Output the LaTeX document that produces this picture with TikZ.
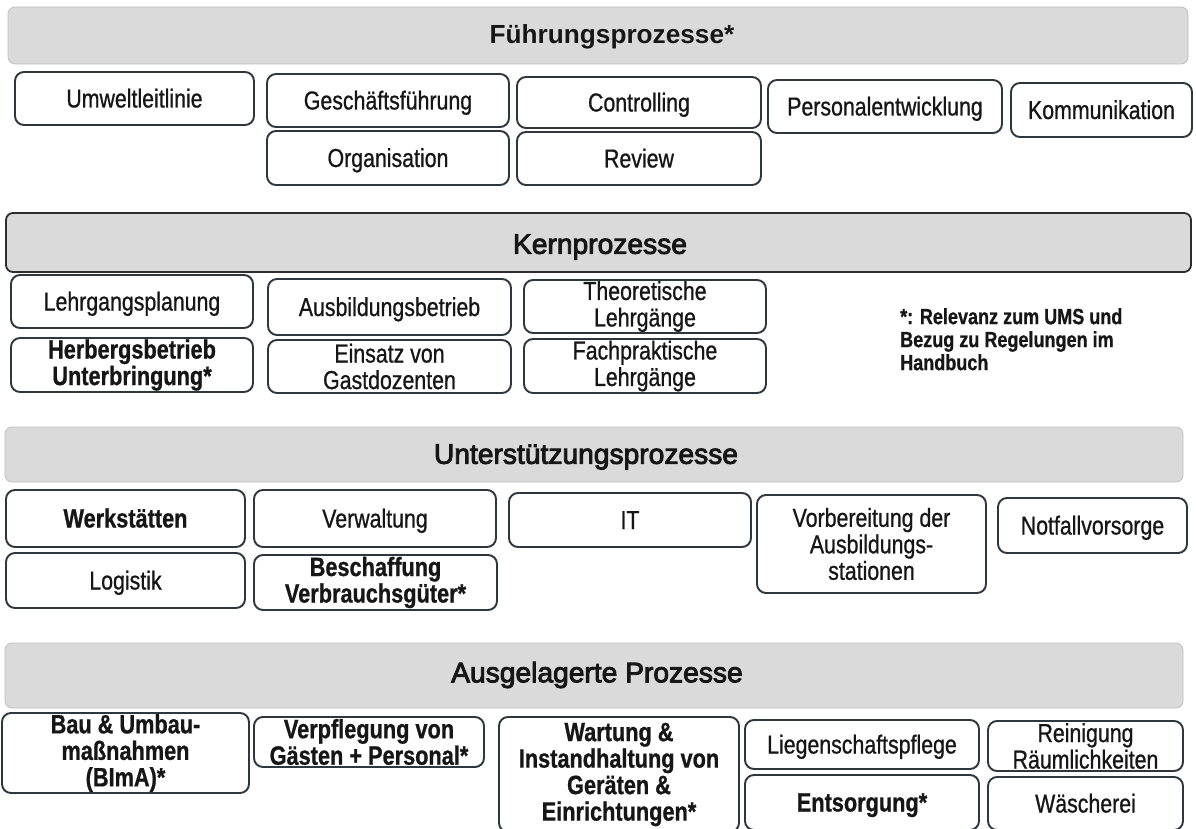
\documentclass[tikz,border=0pt]{standalone}
\usepackage{fontspec}
\setmainfont{Liberation Sans}
\newfontfamily\narrowfont[FakeStretch=0.82,FakeBold=0.8]{Liberation Sans}
\newfontfamily\heavyfont[FakeBold=3.2]{Liberation Sans}
\definecolor{boxline}{RGB}{46,54,62}
\definecolor{bandgray}{RGB}{218,218,218}
\definecolor{bandedge}{RGB}{192,192,192}
\definecolor{ink}{RGB}{22,22,22}
\begin{document}
\begin{tikzpicture}[x=1pt,y=-1pt,
  box/.style={draw=boxline, line width=1.9pt, rounded corners=9pt, fill=white, text=ink,
    align=center, inner xsep=2pt, inner ysep=0pt, font=\narrowfont\fontsize{26}{26.5}\selectfont},
  boldbox/.style={box, font=\narrowfont\fontsize{26.5}{26.5}\selectfont\bfseries},
  one/.style={text height=18pt, text depth=0pt},
  band/.style={fill=bandgray, draw=bandedge, line width=0.8pt, rounded corners=7pt, inner sep=0pt},
  kernband/.style={fill=bandgray, draw=ink!90, line width=1.8pt, rounded corners=7pt, inner sep=0pt},
  titlebold/.style={text=ink, font=\fontsize{26.2}{30}\selectfont\bfseries, inner sep=0pt},
  titleheavy/.style={text=ink, font=\heavyfont\fontsize{28.2}{32}\selectfont, inner sep=0pt},
  note/.style={text=ink, align=left, anchor=north west, inner sep=0pt,
    font=\narrowfont\fontsize{22}{23}\selectfont\bfseries}]
\clip (0,0) rectangle (1196,829);
\fill[white] (0,0) rectangle (1196,829);

% ---- Fuehrungsprozesse
\node[band, minimum width=1180pt, minimum height=57pt] (b1) at (598,35.5) {};
\node[titlebold] (t1) at (612,37) {Führungsprozesse*};
\node[box, one, minimum width=239pt, minimum height=53pt] (umwelt) at (134.5,98.5) {Umweltleitlinie};
\node[box, one, minimum width=242pt, minimum height=53pt] (gf) at (388,100.5) {Geschäftsführung};
\node[box, one, minimum width=244pt, minimum height=51pt] (ctrl) at (639,102.5) {Controlling};
\node[box, one, minimum width=234pt, minimum height=53pt] (pe) at (885,106.5) {Personalentwicklung};
\node[box, one, minimum width=181pt, minimum height=54pt] (komm) at (1101.5,110) {Kommunikation};
\node[box, one, minimum width=242pt, minimum height=54pt] (org) at (388,158) {Organisation};
\node[box, one, minimum width=244pt, minimum height=53pt] (review) at (639,158.5) {Review};

% ---- Kernprozesse
\node[kernband, minimum width=1185pt, minimum height=59pt] (b2) at (598.5,242.5) {};
\node[titleheavy] (t2) at (600,247) {Kernprozesse};
\node[box, one, minimum width=242pt, minimum height=53pt] (lgp) at (132,301.5) {Lehrgangsplanung};
\node[box, one, minimum width=243pt, minimum height=56pt] (ausb) at (389.5,307) {Ausbildungsbetrieb};
\node[box, minimum width=242pt, minimum height=53pt] (theo) at (645,306.5) {Theoretische\\Lehrgänge};
\node[boldbox, minimum width=242pt, minimum height=54pt] (herb) at (132,365) {Herbergsbetrieb\\Unterbringung*};
\node[box, minimum width=243pt, minimum height=53pt] (eins) at (389.5,366.5) {Einsatz von\\Gastdozenten};
\node[box, minimum width=242pt, minimum height=54pt] (fach) at (645,366) {Fachpraktische\\Lehrgänge};
\node[note] (fn) at (900,308) {*: Relevanz zum UMS und\\Bezug zu Regelungen im\\Handbuch};

% ---- Unterstuetzungsprozesse
\node[band, minimum width=1178pt, minimum height=55pt] (b3) at (594,454.5) {};
\node[titleheavy] (t3) at (586,457) {Unterstützungsprozesse};
\node[boldbox, one, minimum width=239pt, minimum height=57pt] (werk) at (125.5,518.5) {Werkstätten};
\node[box, one, minimum width=242pt, minimum height=57pt] (verw) at (375,518.5) {Verwaltung};
\node[box, one, minimum width=242pt, minimum height=54pt] (it) at (630,520) {IT};
\node[box, minimum width=229pt, minimum height=98pt] (vorb) at (871.5,544) {Vorbereitung der\\Ausbildungs-\\stationen};
\node[box, one, minimum width=189pt, minimum height=55pt] (notf) at (1092.5,525.5) {Notfallvorsorge};
\node[box, one, minimum width=239pt, minimum height=55pt] (logi) at (125.5,580.5) {Logistik};
\node[boldbox, minimum width=243pt, minimum height=55pt] (besch) at (375.5,582.5) {Beschaffung\\Verbrauchsgüter*};

% ---- Ausgelagerte Prozesse
\node[band, minimum width=1178pt, minimum height=65pt] (b4) at (594,675.5) {};
\node[titleheavy] (t4) at (597,675) {Ausgelagerte Prozesse};
\node[boldbox, minimum width=247pt, minimum height=80pt] (bau) at (125.5,753) {Bau \& Umbau-\\maßnahmen\\(BImA)*};
\node[boldbox, minimum width=230pt, minimum height=50pt] (verpf) at (369,742) {Verpflegung von\\Gästen + Personal*};
\node[boldbox, minimum width=240pt, minimum height=115pt] (wart) at (619,774.5) {Wartung \&\\Instandhaltung von\\Geräten \&\\Einrichtungen*};
\node[box, one, minimum width=234pt, minimum height=49pt] (lieg) at (862,744.5) {Liegenschaftspflege};
\node[box, minimum width=195pt, minimum height=50pt] (rein) at (1085.5,746) {Reinigung\\Räumlichkeiten};
\node[boldbox, one, minimum width=234pt, minimum height=55pt] (ents) at (862,802.5) {Entsorgung*};
\node[box, one, minimum width=195pt, minimum height=53pt] (wasch) at (1085.5,803.5) {Wäscherei};
\end{tikzpicture}
\end{document}
